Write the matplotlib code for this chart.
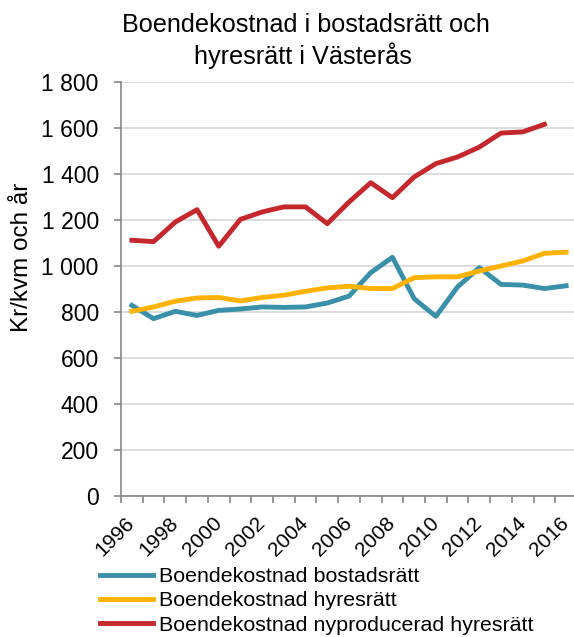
import matplotlib
matplotlib.use("Agg")
import matplotlib.pyplot as plt
from matplotlib.ticker import FuncFormatter

plt.rcParams['font.family'] = ['Liberation Sans', 'DejaVu Sans']

# data (kr/kvm och år)
years = list(range(1996, 2017))
bostadsratt = [829, 771, 803, 785, 807, 813, 822, 820, 822, 839, 869,
               971, 1038, 858, 781, 909, 993, 920, 917, 902, 914]
hyresratt = [803, 822, 847, 861, 863, 848, 863, 873, 890, 905, 912,
             902, 902, 949, 953, 953, 978, 1000, 1022, 1055, 1060]
nyproducerad_years = list(range(1996, 2016))
nyproducerad = [1112, 1106, 1191, 1245, 1086, 1203, 1235, 1257, 1257, 1184,
                1278, 1362, 1297, 1387, 1445, 1474, 1517, 1578, 1583, 1616]

labels = ["Boendekostnad bostadsrätt", "Boendekostnad hyresrätt",
          "Boendekostnad nyproducerad hyresrätt"]
colors = ["#3A90A8", "#FFB300", "#C4282D"]

W, H = 574, 637
fig = plt.figure(figsize=(W / 100, H / 100), dpi=100)
# axes box in pixels: left 121, right 577, top 82, bottom 496
ax = fig.add_axes([121 / W, 1 - 496 / H, (577 - 121) / W, (496 - 82) / H])

lw = 3.5
ax.plot(years, bostadsratt, color=colors[0], lw=lw, label=labels[0])
ax.plot(years, hyresratt, color=colors[1], lw=lw, label=labels[1])
ax.plot(nyproducerad_years, nyproducerad, color=colors[2], lw=lw, label=labels[2])

ax.set_xlim(1995.5, 2016.5)
ax.set_ylim(0, 1800)
ax.set_yticks(range(0, 1801, 200))
ax.yaxis.set_major_formatter(FuncFormatter(lambda v, p: f"{int(v):,}".replace(",", " ")))
ax.grid(axis='y', color='#D9D9D9', lw=1.3)
ax.set_axisbelow(True)

ax.set_xticks(years[::2])
ax.set_xticklabels([str(y) for y in years[::2]], rotation=45, ha='right',
                   va='center', rotation_mode='anchor')
ax.set_xticks([y - 0.5 for y in years] + [2016.5], minor=True)
ax.tick_params(axis='x', which='major', length=0, pad=17.5, labelsize=15)
ax.tick_params(axis='x', which='minor', length=5, color='#868686', width=1.2)
ax.tick_params(axis='y', length=5, color='#868686', width=1.2, pad=11, labelsize=16.5)

for s in ['top', 'right']:
    ax.spines[s].set_visible(False)
for s in ['left', 'bottom']:
    ax.spines[s].set_color('#868686')
    ax.spines[s].set_linewidth(1.2)

fig.text(306 / W, 1 - 32 / H, "Boendekostnad i bostadsrätt och", ha='center',
         va='baseline', fontsize=18.2)
fig.text(303 / W, 1 - 64 / H, "hyresrätt i Västerås", ha='center',
         va='baseline', fontsize=18.2)
fig.text(22 / W, 1 - 257 / H, "Kr/kvm och år", rotation=90, ha='center',
         va='center', fontsize=17.5)

fig.legend(loc='upper left', bbox_to_anchor=(100 / W, 1 - 567 / H), frameon=False,
           fontsize=15.4, handlelength=2.5, handletextpad=0.25, labelspacing=0.25,
           borderpad=0, borderaxespad=0)

fig.savefig("out.png", dpi=100)
